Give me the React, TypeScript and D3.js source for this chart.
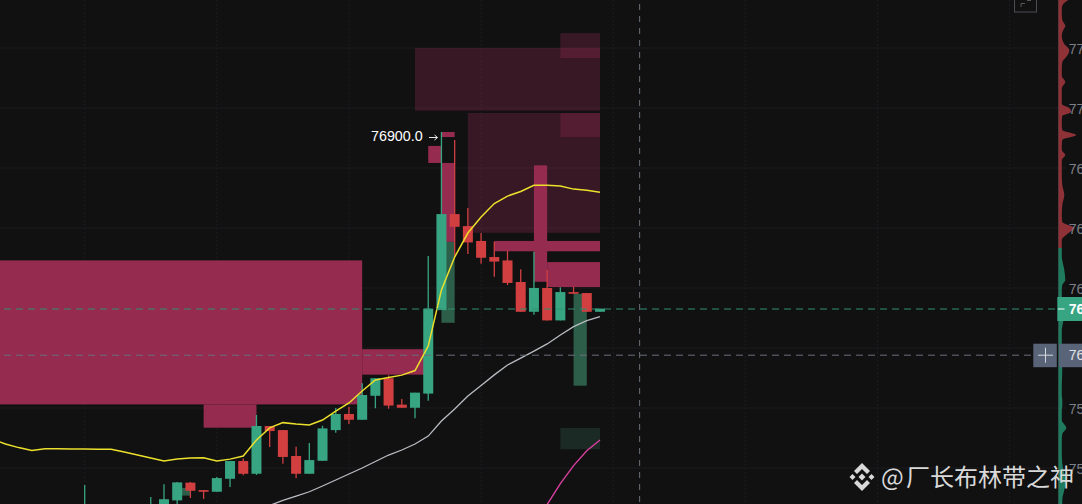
import React from "react";
import * as d3 from "d3";

const WIDTH = 1082;
const HEIGHT = 504;

// Candle data: index along the time axis + OHLC
const candleIndex = [0, 5, 6, 7, 8, 9, 10, 11, 12, 13, 14, 15, 16, 17, 18, 19, 20, 21, 22, 23, 24, 25, 26, 27, 28, 29, 30, 31, 32, 33, 34, 35, 36, 37, 38, 39];
const opens = [75262, 75283, 75304, 75365, 75439, 75408, 75401, 75455, 75529, 75476, 75675, 75658, 75550, 75476, 75530, 75658, 75725, 75701, 75801, 75874, 75764, 75751, 75810, 76158, 76558, 76508, 76446, 76379, 76365, 76275, 76151, 76250, 76115, 76233, 76229, 76151];
const closes = [75325, 75346, 75370, 75440, 75405, 75401, 75458, 75529, 75476, 75675, 75654, 75546, 75476, 75533, 75665, 75725, 75701, 75804, 75874, 75760, 75751, 75814, 76164, 76558, 76505, 76440, 76376, 76360, 76271, 76151, 76250, 76115, 76233, 76226, 76151, 76164];
const highs = [75429, 75379, 75432, 75442, 75442, 75408, 75462, 75529, 75540, 75721, 75675, 75658, 75589, 75604, 75676, 75750, 75755, 75853, 75874, 75886, 75787, 75814, 76383, 76900, 76867, 76583, 76479, 76443, 76405, 76328, 76401, 76325, 76253, 76255, 76229, 76164];
const lows = [75242, 75262, 75283, 75325, 75375, 75371, 75401, 75421, 75470, 75471, 75587, 75518, 75457, 75476, 75530, 75647, 75683, 75701, 75749, 75747, 75751, 75707, 75780, 76158, 76385, 76392, 76351, 76297, 76262, 76151, 76139, 76115, 76115, 76226, 76151, 76151];

// Moving averages
const yellowStart = -7;
const yellowMA = [75621, 75600, 75585, 75573, 75580, 75580, 75579, 75579, 75578, 75578, 75567, 75554, 75542, 75529, 75537, 75542, 75543, 75529, 75537, 75550, 75617, 75667, 75689, 75683, 75679, 75700, 75737, 75771, 75821, 75867, 75877, 75887, 75906, 76008, 76242, 76379, 76479, 76546, 76602, 76633, 76652, 76678, 76678, 76675, 76662, 76657, 76649];
const whiteStart = 14;
const whiteMA = [75344, 75365, 75383, 75401, 75425, 75450, 75475, 75500, 75527, 75554, 75575, 75600, 75633, 75696, 75746, 75800, 75844, 75888, 75929, 75958, 75987, 76017, 76054, 76089, 76114, 76131];
const pinkStart = 35;
const pinkMA = [75348, 75435, 75510, 75572, 75617];

// Liquidity zones: [from index, to index, top price, bottom price]
const solidZones = [
  [-7, 21, 76365, 75765],
  [9, 13, 75765, 75668],
  [21, 26, 75995, 75889],
  [34, 35, 76761, 76276],
  [31, 39, 76446, 76403],
  [35, 39, 76358, 76254],
  [26, 27, 76842, 76771],
  [27, 28, 76900, 76879],
  [27, 28, 76771, 76442],
];
const faintZones = [
  [25, 39, 77250, 76989],
  [36, 39, 77312, 77208],
  [29, 39, 76979, 76480],
  [36, 39, 76979, 76879],
];
const greenZones = [
  [27, 28, 76442, 76105],
  [37, 38, 76226, 75843],
  [7, 8, 75417, 75385],
];
const faintGreenZones = [[36, 39, 75667, 75578]];

// Axis
const priceTicks = [77250, 77000, 76750, 76500, 76250, 76000, 75750, 75500];
const labelledTicks = [77250, 77000, 76750, 76500, 76250, 75750, 75500];
const gridIndexes = [-10, 0, 10, 20, 30, 40, 50, 60, 70];
const lastPrice = 76162.5;
const crossPrice = 75970;
const crossLabel = "76000.0";
const peakPrice = 76900;
const crossIndex = 42;

// Volume profile on the price axis
const redLevels = [77450, 77433, 77417, 77392, 77367, 77342, 77325, 77300, 77267, 77242, 77225, 77208, 77192, 77167, 77133, 77108, 77083, 77050, 77017, 77000, 76983, 76967, 76950, 76929, 76908, 76887, 76867, 76846, 76825, 76804, 76783, 76750, 76721, 76679, 76637, 76596, 76554, 76525, 76500, 76475, 76450, 76417];
const redVolumes = [9, 4, 2, 2, 3, 6, 4, 2, 5, 10, 9, 6, 3, 2, 2, 6, 2, 1, 2, 10, 12, 3, 2, 1, 3, 17, 3, 1, 2, 6, 2, 1, 2, 3, 5, 3, 2, 3, 15, 8, 2, 1];
const greenLevels = [76417, 76400, 76383, 76325, 76283, 76262, 76242, 76200, 76117, 76075, 76033, 75950, 75908, 75846, 75804, 75783, 75758, 75742, 75700, 75667, 75642, 75617, 75554, 75492, 75450, 75408, 75367, 75325];
const greenVolumes = [1, 1, 2, 5, 6, 3, 1, 2, 4, 2, 2, 2, 3, 2, 2, 3, 3, 2, 1, 7, 3, 2, 2, 4, 7, 5, 3, 3];

const BG = "#111112";
const GREEN = "#38a582";
const RED = "#d13f40";
const PINK = "#962b50";
const GRID = "#1c1d21";
const AXIS_TEXT = "#7b7f87";
const FONT = "'Liberation Sans', Arial, sans-serif";

const x = d3.scaleLinear().domain([0, 39]).range([84.7, 600]);
const y = d3.scaleLinear().domain([77000, 76250]).range([108, 288]);
const vol = d3.scaleLinear().domain([0, 20]).range([1059.3, 1079.3]);

const maLine = (start: number, values: number[]) =>
  d3.line<number>().x((_, i) => x(start + i)).y((d) => y(d))(values) ?? "";

const profileArea = (levels: number[], volumes: number[]) =>
  d3
    .area<number>()
    .x0(1058.5)
    .x1((_, i) => vol(Math.max(volumes[i], 2.5)))
    .y((d) => y(d))
    .curve(d3.curveMonotoneY)(levels) ?? "";

const Zones = ({ zones, fill, opacity = 1 }: { zones: number[][]; fill: string; opacity?: number }) => (
  <g>
    {zones.map(([a, b, top, bottom], i) => (
      <rect key={i} x={x(a)} y={y(top)} width={x(b) - x(a)} height={y(bottom) - y(top)} fill={fill} fillOpacity={opacity} />
    ))}
  </g>
);

export default function App() {
  React.useEffect(() => {
    document.body.style.margin = "0";
    document.body.style.background = BG;
    document.body.style.overflow = "hidden";
  }, []);
  return (
    <svg
      width={WIDTH}
      height={HEIGHT}
      style={{ position: "fixed", left: 0, top: 0, display: "block", background: BG }}
    >
      {/* grid */}
      {priceTicks.map((t) => (
        <line key={t} x1={0} x2={1066} y1={y(t)} y2={y(t)} stroke={GRID} strokeWidth={1} />
      ))}
      {gridIndexes.map((t) => (
        <line key={t} x1={x(t)} x2={x(t)} y1={0} y2={HEIGHT} stroke={GRID} strokeWidth={1} strokeDasharray="2 2" />
      ))}

      {/* zones */}
      <Zones zones={faintZones} fill={PINK} opacity={0.3} />
      <Zones zones={faintGreenZones} fill="#1b2a24" />
      <Zones zones={solidZones} fill={PINK} />
      <Zones zones={greenZones} fill="#2d5e49" />

      {/* candles */}
      {candleIndex.map((c, i) => {
        const up = closes[i] >= opens[i];
        const color = up ? GREEN : RED;
        const top = y(Math.max(opens[i], closes[i]));
        const bottom = y(Math.min(opens[i], closes[i]));
        return (
          <g key={c}>
            <line x1={x(c)} x2={x(c)} y1={y(highs[i])} y2={y(lows[i])} stroke={color} strokeWidth={1.3} />
            <rect x={x(c) - 5} y={top} width={10} height={Math.max(bottom - top, 1)} fill={color} />
          </g>
        );
      })}

      {/* moving averages */}
      <path d={maLine(whiteStart, whiteMA)} fill="none" stroke="#b9bcc0" strokeWidth={1.3} />
      <path d={maLine(pinkStart, pinkMA)} fill="none" stroke="#d8409f" strokeWidth={1.4} />
      <path d={maLine(yellowStart, yellowMA)} fill="none" stroke="#ece02c" strokeWidth={1.5} />

      {/* price lines */}
      <line x1={4} x2={1058} y1={y(lastPrice)} y2={y(lastPrice)} stroke="#2f8f72" strokeWidth={1} strokeDasharray="7 5" />
      <line x1={4} x2={1033} y1={y(crossPrice)} y2={y(crossPrice)} stroke="#6a6f7a" strokeWidth={1} strokeDasharray="7 5" />
      <line x1={x(crossIndex)} x2={x(crossIndex)} y1={4} y2={HEIGHT} stroke="#6a6f7a" strokeWidth={1} strokeDasharray="6 6" />

      {/* peak label */}
      <text x={371} y={y(peakPrice) + 9} fontFamily={FONT} fontSize={14.3} fill="#ffffff">
        {d3.format(".1f")(peakPrice)}
      </text>
      <path d="M429 137.5H437.5M434.5 135L437.5 137.5L434.5 140" fill="none" stroke="#e8e8e8" strokeWidth={1} />

      {/* top right icon */}
      <rect x={1014.5} y={-5} width={22} height={17} fill="none" stroke="#4a4c52" strokeWidth={1} />
      <path d="M1021 7V3.5H1025M1027 0.5H1031" fill="none" stroke="#55575d" strokeWidth={1} />

      {/* price axis */}
      <line x1={1058.5} x2={1058.5} y1={0} y2={HEIGHT} stroke="#33363c" strokeWidth={1} />
      <path d={profileArea(redLevels, redVolumes)} fill="#8e3237" />
      <path d={profileArea(greenLevels, greenVolumes)} fill="#1f7a5e" />
      {labelledTicks.map((t) => (
        <text key={t} x={1068.8} y={y(t) + 5.5} fontFamily={FONT} fontSize={14} fill={AXIS_TEXT}>
          {d3.format(".1f")(t)}
        </text>
      ))}

      {/* last price badge */}
      <rect x={1057.3} y={y(lastPrice) - 12} width={25} height={24} fill={GREEN} />
      <line x1={1058} x2={1064.5} y1={y(lastPrice)} y2={y(lastPrice)} stroke="#ffffff" />
      <text x={1068.8} y={y(lastPrice) + 5} fontFamily={FONT} fontSize={14} fontWeight={700} fill="#ffffff">
        {d3.format(".1f")(lastPrice)}
      </text>

      {/* crosshair badge */}
      <rect x={1033.3} y={y(crossPrice) - 11.5} width={23.5} height={23.5} fill="#5a6478" />
      <rect x={1059} y={y(crossPrice) - 11.5} width={24} height={23.5} fill="#5a6478" />
      <path
        d={`M1038 ${y(crossPrice)}H1053M1045.5 ${y(crossPrice) - 7.5}V${y(crossPrice) + 7.5}`}
        fill="none"
        stroke="#d5d8de"
        strokeWidth={1}
      />
      <text x={1068.8} y={y(crossPrice) + 5} fontFamily={FONT} fontSize={14} fill="#e0e2e6">
        {crossLabel}
      </text>

      {/* watermark */}
      <g fill="#d9d9d9">
        <path d="M862 473.5L865.5 477L862 480.5L858.5 477Z" />
        <path d="M852.5 474L855.5 477L852.5 480L849.5 477Z" />
        <path d="M871.5 474L874.5 477L871.5 480L868.5 477Z" />
        <path d="M862 463L870 471L867 474L862 469L857 474L854 471Z" />
        <path d="M862 491L870 483L867 480L862 485L857 480L854 483Z" />
      </g>
      <text y={486} fontFamily="'Noto Sans CJK SC', sans-serif" fontSize={24} fill="#d9d9d9">
        <tspan x={881}>@</tspan>
        <tspan x={906}>厂长布林带之神</tspan>
      </text>
    </svg>
  );
}
